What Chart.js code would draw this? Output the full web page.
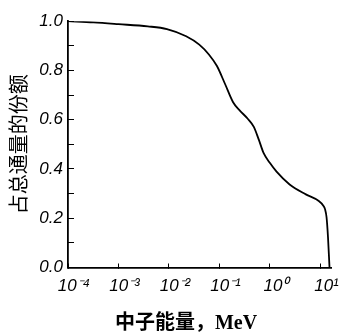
<!DOCTYPE html>
<html><head><meta charset="utf-8">
<script src="https://cdn.jsdelivr.net/npm/chart.js@4/dist/chart.umd.min.js"></script>
<style>html,body{margin:0;padding:0;background:#fff;}#wrap{width:346px;height:336px;position:relative;}</style>
</head><body><div id="wrap"><canvas id="c"></canvas></div>
<script>
// Neutron energy (MeV) and fraction of total flux
const energyMeV = [0.0001, 0.00032, 0.001, 0.0038, 0.0091, 0.0219, 0.0398, 0.0617, 0.0891, 0.129, 0.186, 0.251, 0.363, 0.479, 0.603, 0.750, 1.0, 1.35, 2.45, 5.13, 9.12, 11.5, 12.3, 13.2, 14.1, 15.1];
const fraction  = [1.0,    0.995,   0.988, 0.979,  0.968,  0.939,  0.905,  0.865,  0.818,  0.745, 0.671, 0.638, 0.604, 0.571, 0.518, 0.464, 0.424, 0.389, 0.337, 0.297, 0.271, 0.250, 0.237, 0.204, 0.123, 0.0];
const xTickValues = [1e-4, 1e-3, 1e-2, 1e-1, 1, 10];
const xTickLabels = ['10⁻⁴', '10⁻³', '10⁻²', '10⁻¹', '10⁰', '10¹'];
const yTickLabels = ['0.0', '0.2', '0.4', '0.6', '0.8', '1.0'];
const xTitle = '中子能量，MeV';
const yTitle = '占总通量的份额';

const points = energyMeV.map((e, i) => ({x: e, y: fraction[i]}));

// x-axis title, placed below the axis (slightly left of centre, as in the original)
const xTitlePlugin = {
  id: 'xTitle',
  afterDraw(chart) {
    const {ctx, chartArea} = chart;
    ctx.save();
    ctx.fillStyle = '#000';
    ctx.font = "bold 20px 'Liberation Serif', 'Noto Sans CJK SC'";
    ctx.textAlign = 'center';
    ctx.textBaseline = 'middle';
    ctx.fillText(xTitle, chartArea.left + 118, 324);
    ctx.restore();
  }
};

new Chart(document.getElementById('c'), {
  type: 'line',
  data: { datasets: [{ data: points, borderColor: '#000', borderWidth: 1.8, pointRadius: 0, fill: false, cubicInterpolationMode: 'monotone' }] },
  options: {
    responsive: true, maintainAspectRatio: false, animation: false,
    layout: { padding: { left: 4, right: 6, top: 18, bottom: 0 } },
    plugins: { legend: { display: false }, tooltip: { enabled: false } },
    scales: {
      x: {
        type: 'logarithmic', min: 1e-4, max: 16.5,
        afterBuildTicks: (s) => { s.ticks = xTickValues.map(v => ({value: v})); },
        afterFit: (s) => { s.height = 68.5; },
        grid: { drawOnChartArea: false, drawTicks: true, tickLength: -4, color: '#000', lineWidth: 1 },
        border: { display: true, color: '#000', width: 1.8 },
        ticks: {
          autoSkip: false, maxRotation: 0, padding: 13, labelOffset: 6, color: '#000',
          font: { family: 'Liberation Sans', style: 'italic', size: 17 },
          callback: (v) => { const i = xTickValues.findIndex(t => Math.abs(Math.log10(t) - Math.log10(v)) < 1e-6); return i >= 0 ? xTickLabels[i] : ''; }
        },
        title: { display: false }
      },
      y: {
        min: 0, max: 1.0,
        afterFit: (s) => { s.width = 64; },
        grid: { drawOnChartArea: false, drawTicks: true, tickLength: -6, color: '#000', lineWidth: 1 },
        border: { display: true, color: '#000', width: 1.8 },
        ticks: {
          stepSize: 0.1, autoSkip: false, padding: 11, color: '#000',
          font: { family: 'Liberation Sans', style: 'italic', size: 17 },
          callback: (v) => { const k = Math.round(v * 10); return k % 2 === 0 ? yTickLabels[k / 2] : ''; }
        },
        title: { display: true, text: yTitle, color: '#000', padding: { top: 2, bottom: 2 },
          font: { family: "'Noto Sans CJK SC'", size: 20 } }
      }
    }
  },
  plugins: [xTitlePlugin]
});
</script></body></html>
